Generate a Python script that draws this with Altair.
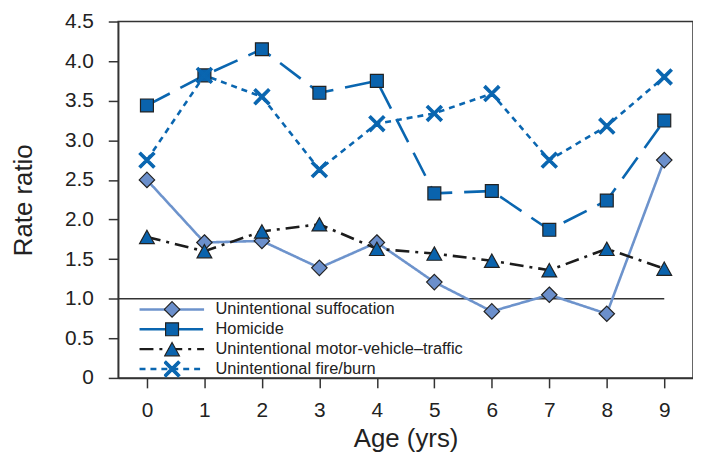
import altair as alt
import pandas as pd

FONT = "Liberation Sans"

# ---- data ----
ages = [0, 1, 2, 3, 4, 5, 6, 7, 8, 9]
series_names = [
    "Unintentional suffocation",
    "Homicide",
    "Unintentional motor-vehicle\u2013traffic",
    "Unintentional fire/burn",
]
marker_types = ["diamond", "square", "triangle", "cross"]
suffocation = [2.50, 1.71, 1.73, 1.39, 1.71, 1.21, 0.84, 1.05, 0.81, 2.75]
homicide = [3.44, 3.82, 4.15, 3.60, 3.75, 2.33, 2.36, 1.87, 2.24, 3.25]
motor_vehicle = [1.78, 1.60, 1.85, 1.94, 1.63, 1.57, 1.48, 1.36, 1.63, 1.38]
fire_burn = [2.75, 3.82, 3.55, 2.63, 3.21, 3.34, 3.59, 2.75, 3.18, 3.80]
y_ticks = [0, 0.5, 1.0, 1.5, 2.0, 2.5, 3.0, 3.5, 4.0, 4.5]
reference_ratio = [1.0]
x_domain = [-0.5, 9.5]
y_domain = [0, 4.5]

# ---- styles ----
line_colors = ["#6d93cc", "#0a66b0", "#1c1c1c", "#0a66b0"]
line_dashes = [[1, 0], [26, 12], [14, 6, 3, 6], [6, 5]]
marker_fills = ["#6b8fcb", "#0a63ad", "#0a63ad", "#0a66b0"]
marker_strokes = ["#222222", "#222222", "#222222", "#0a66b0"]
marker_paths = [
    "M0,-1.1L1.1,0L0,1.1L-1.1,0Z",
    "M-0.92,-0.92H0.92V0.92H-0.92Z",
    "M0,-0.95L1.05,0.95L-1.05,0.95Z",
    "M0.875,1.125L1.125,0.875L0.25,0L1.125,-0.875L0.875,-1.125L0,-0.25"
    "L-0.875,-1.125L-1.125,-0.875L-0.25,0L-1.125,0.875L-0.875,1.125L0,0.25Z",
]

values = [suffocation, homicide, motor_vehicle, fire_burn]
rows = []
for name, mk, vals in zip(series_names, marker_types, values):
    for a, v in zip(ages, vals):
        rows.append({"age": a, "ratio": v, "series": name, "marker": mk})
df = pd.DataFrame(rows)

x_scale = alt.Scale(domain=x_domain, nice=False, zero=False)
y_scale = alt.Scale(domain=y_domain, nice=False)

x_enc = alt.X(
    "age:Q",
    scale=x_scale,
    axis=alt.Axis(values=ages, title="Age (yrs)", format="d"),
)
y_enc = alt.Y(
    "ratio:Q",
    scale=y_scale,
    axis=alt.Axis(
        values=y_ticks,
        title="Rate ratio",
        labelExpr="datum.value == 0 ? '0' : format(datum.value, '.1f')",
    ),
)

line_legend = alt.Legend(
    title=None,
    orient="none",
    legendX=20,
    legendY=280,
    symbolType="stroke",
    symbolSize=4225,
    symbolStrokeWidth=2.5,
    clipHeight=20,
    rowPadding=0,
    padding=0,
    labelOffset=10,
    labelFontSize=16.5,
    labelLimit=0,
    zindex=1,
)
marker_legend = alt.Legend(
    title=None,
    orient="none",
    legendX=46,
    legendY=280,
    symbolSize=200,
    symbolStrokeWidth=1.2,
    clipHeight=20,
    rowPadding=0,
    padding=0,
    labelExpr="''",
    labelOpacity=0,
    zindex=2,
)

ref_df = pd.DataFrame(
    {"ratio": reference_ratio, "age": [x_domain[0]], "age_end": [ages[-1]]}
)
ref = alt.Chart(ref_df).mark_rule(color="#333333", strokeWidth=1.5).encode(
    y=y_enc,
    x=x_enc,
    x2="age_end:Q",
)

lines = alt.Chart(df).mark_line(strokeWidth=2.6, strokeCap="butt").encode(
    x=x_enc,
    y=y_enc,
    color=alt.Color(
        "series:N",
        scale=alt.Scale(domain=series_names, range=line_colors),
        legend=line_legend,
    ),
    strokeDash=alt.StrokeDash(
        "series:N",
        scale=alt.Scale(domain=series_names, range=line_dashes),
        legend=line_legend,
    ),
)

points = alt.Chart(df).mark_point(
    filled=True, opacity=1, size=200, strokeWidth=1.2
).encode(
    x=x_enc,
    y=y_enc,
    shape=alt.Shape(
        "marker:N",
        scale=alt.Scale(domain=marker_types, range=marker_paths),
        legend=marker_legend,
    ),
    fill=alt.Fill(
        "marker:N",
        scale=alt.Scale(domain=marker_types, range=marker_fills),
        legend=marker_legend,
    ),
    stroke=alt.Stroke(
        "marker:N",
        scale=alt.Scale(domain=marker_types, range=marker_strokes),
        legend=marker_legend,
    ),
)

chart = (
    alt.layer(ref, lines, points)
    .properties(
        width=579,
        height=359,
        padding={"left": 2, "top": 1, "right": 0, "bottom": 0},
    )
    .configure_view(stroke="#333333", strokeWidth=1.5)
    .configure_axis(
        grid=False,
        domainColor="#333333",
        domainWidth=1.5,
        tickColor="#333333",
        tickWidth=1.5,
        tickSize=10,
        labelFont=FONT,
        labelFontSize=21,
        labelColor="#222222",
        titleFont=FONT,
        titleFontSize=26,
        titleFontWeight="normal",
        titleColor="#222222",
    )
    .configure_axisY(labelPadding=15, titlePadding=28)
    .configure_axisX(labelPadding=12, titlePadding=5)
    .configure_legend(labelFont=FONT, labelFontSize=16.5, labelColor="#222222")
)

chart.save("out.html", embed_options={"renderer": "svg", "actions": False})
